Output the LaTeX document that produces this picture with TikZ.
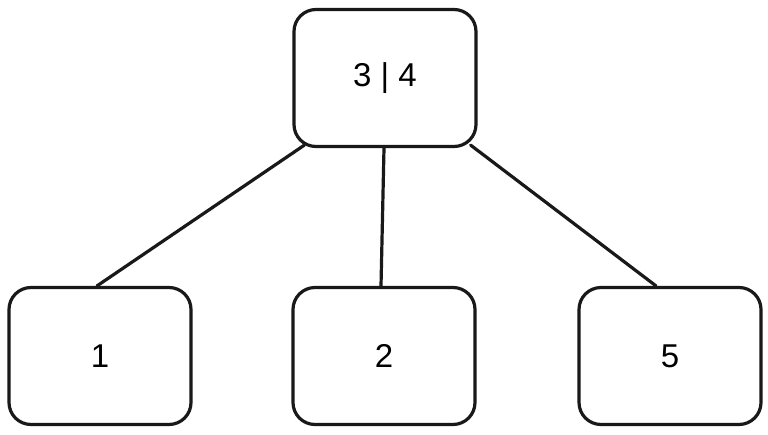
\documentclass[tikz,border=0pt]{standalone}
\usepackage{fontspec}
\setmainfont{Liberation Sans}
\begin{document}
\begin{tikzpicture}[x=1pt,y=-1pt,
  box/.style={draw=black!90, line width=3.2pt, rounded corners=22pt, minimum width=182pt, minimum height=137pt, inner sep=0pt, font=\fontsize{33}{38}\selectfont},
  edge/.style={draw=black!90, line width=3.2pt, line cap=round}]
\useasboundingbox (0,0) rectangle (768,434);
\node[box] (top) at (385,78) {3 | 4};
\node[box] (n1) at (100,356) {1};
\node[box] (n2) at (384,356) {2};
\node[box] (n5) at (670,356) {5};
\draw[edge] ([shift={(12,-3)}]top.south west) -- ([shift={(-3,0)}]n1.north);
\draw[edge] ([shift={(-1,0)}]top.south) -- ([shift={(-3,0)}]n2.north);
\draw[edge] ([shift={(-7,-3)}]top.south east) -- ([shift={(-14,0)}]n5.north);
\end{tikzpicture}
\end{document}
